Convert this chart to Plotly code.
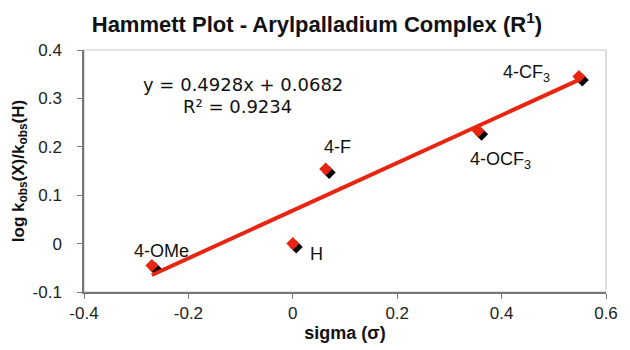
import plotly.graph_objects as go

# Data
labels = ["4-OMe", "H", "4-F", "4-OCF<sub>3</sub>", "4-CF<sub>3</sub>"]
sigma = [-0.27, 0.0, 0.063, 0.355, 0.548]
log_ratio = [-0.045, 0.0, 0.154, 0.233, 0.345]
slope = 0.4928
intercept = 0.0682
r_squared = 0.9234

x_range = [-0.4, 0.6]
y_range = [-0.1, 0.4]
x_ticks = [-0.4, -0.2, 0, 0.2, 0.4, 0.6]
y_ticks = [-0.1, 0, 0.1, 0.2, 0.3, 0.4]
x_tick_text = ["-0.4", "-0.2", "0", "0.2", "0.4", "0.6"]
y_tick_text = ["-0.1", "0", "0.1", "0.2", "0.3", "0.4"]

# Layout geometry
W, H = 630, 350
ml, mr, mt, mb = 84, 21, 50, 53
pw, ph = W - ml - mr, H - mt - mb
shadow_px = 3.5
dx = shadow_px * (x_range[1] - x_range[0]) / pw
dy = shadow_px * (y_range[1] - y_range[0]) / ph

RED = "#E82510"
SANS = "Liberation Sans, Arial, sans-serif"
fit_x = [min(sigma), max(sigma)]
fit_y = [slope * v + intercept for v in fit_x]

fig = go.Figure()
# shadow markers (base axes shifted by a few pixels)
fig.add_trace(go.Scatter(x=sigma, y=log_ratio, mode="markers", xaxis="x", yaxis="y",
                         marker=dict(symbol="diamond", size=10, color="black"),
                         hoverinfo="skip", showlegend=False))
# red markers and trendline
fig.add_trace(go.Scatter(x=sigma, y=log_ratio, mode="markers", xaxis="x2", yaxis="y2",
                         marker=dict(symbol="diamond", size=10, color=RED),
                         showlegend=False))
fig.add_trace(go.Scatter(x=fit_x, y=fit_y, mode="lines", xaxis="x2", yaxis="y2",
                         line=dict(color=RED, width=4), showlegend=False))

label_shift = [(10, 14), (24, -10), (12, 22), (22, -30), (-52, 3)]
annotations = []
for lab, xv, yv, (sx, sy) in zip(labels, sigma, log_ratio, label_shift):
    annotations.append(dict(x=xv, y=yv, xref="x2", yref="y2", text=lab, showarrow=False,
                            xshift=sx, yshift=sy,
                            font=dict(family=SANS, size=18, color="#111")))
annotations.append(dict(x=-0.095, y=0.329, xref="x2", yref="y2",
                        text=f"y = {slope}x + {intercept}", showarrow=False,
                        font=dict(family="DejaVu Sans, Verdana, sans-serif", size=18, color="#111")))
annotations.append(dict(x=-0.105, y=0.283, xref="x2", yref="y2",
                        text=f"R² = {r_squared}", showarrow=False,
                        font=dict(family="DejaVu Sans, Verdana, sans-serif", size=18, color="#111")))

axis_common = dict(showgrid=False, zeroline=False)
fig.update_layout(
    width=W, height=H,
    margin=dict(l=ml, r=mr, t=mt, b=mb),
    paper_bgcolor="white", plot_bgcolor="white",
    title=dict(text="<b>Hammett Plot - Arylpalladium Complex (R<sup>1</sup>)</b>",
               x=0.503, xanchor="center", y=0.93, yanchor="middle",
               font=dict(family=SANS, size=22, color="#111")),
    xaxis=dict(range=[x_range[0] - dx, x_range[1] - dx], visible=False, **axis_common),
    yaxis=dict(range=[y_range[0] + dy, y_range[1] + dy], visible=False, **axis_common),
    xaxis2=dict(range=x_range, overlaying="x", side="bottom", tickvals=x_ticks, ticktext=x_tick_text,
                ticks="outside", ticklen=5, tickcolor="#777", showline=True, linecolor="#777", linewidth=1.5,
                tickfont=dict(family=SANS, size=17, color="#222"),
                title=dict(text="<b>sigma (σ)</b>", standoff=2,
                           font=dict(family=SANS, size=18, color="#111")),
                **axis_common),
    yaxis2=dict(range=y_range, overlaying="y", side="left", tickvals=y_ticks, ticktext=y_tick_text,
                ticks="outside", ticklen=5, tickcolor="#777", showline=True, linecolor="#777", linewidth=1.5,
                ticklabelstandoff=12,
                tickfont=dict(family=SANS, size=17, color="#222"),
                title=dict(text="<b>log k<sub>obs</sub>(X)/k<sub>obs</sub>(H)</b>", standoff=4,
                           font=dict(family=SANS, size=17, color="#111")),
                **axis_common),
    shapes=[dict(type="rect", xref="paper", yref="paper", x0=0, x1=1, y0=0, y1=1,
                 line=dict(color="#c8c8c8", width=1.2), layer="below")],
    annotations=annotations,
)

fig.write_html("out.html")
